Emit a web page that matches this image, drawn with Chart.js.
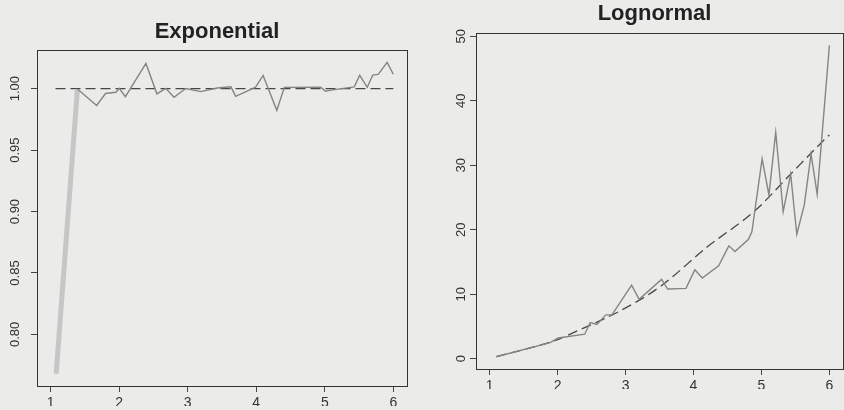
<!DOCTYPE html>
<html>
<head>
<meta charset="utf-8">
<script src="https://cdn.jsdelivr.net/npm/chart.js@4.4.1/dist/chart.umd.min.js"></script>
<style>
    html, body { margin: 0; padding: 0; background: #ebebe9; overflow: hidden; }
    #wrap { position: relative; width: 844px; height: 410px; }
    canvas { position: absolute; left: 0; top: 0; }
</style>
</head>
<body>
<div id="wrap">
    <canvas id="expChart" width="844" height="410"></canvas>
    <canvas id="lnChart" width="844" height="410"></canvas>
</div>
<script>
// Exponential panel: running estimate and true value (dashed)
const expX = [1.08, 1.39, 1.67, 1.80, 1.95, 2.00, 2.09, 2.39, 2.55, 2.68, 2.80, 2.97, 3.19, 3.43, 3.63, 3.70,
    3.99, 4.10, 4.30, 4.41, 4.94, 5.01, 5.09, 5.43, 5.51, 5.62, 5.70, 5.78, 5.91, 6.00];
const expY = [0.768, 0.9997, 0.9863, 0.9961, 0.9971, 1.0002, 0.9935, 1.0206, 0.9958, 1.0003, 0.993, 1.0002,
    0.9976, 1.0006, 1.0015, 0.9937, 1.0012, 1.0108, 0.9824, 1.0011, 1.0012, 0.9979, 0.9988, 1.0015, 1.0109,
    1.0011, 1.0111, 1.0117, 1.0214, 1.0118];
const expTrueX = [1.07, 6.00];
const expTrueY = [1.0, 1.0];
const expTicksY = [0.80, 0.85, 0.90, 0.95, 1.00];

// Lognormal panel
const lnX = [1.10, 1.89, 2.01, 2.40, 2.48, 2.58, 2.71, 2.80, 3.09, 3.20, 3.53, 3.62, 3.89, 4.02, 4.13, 4.37,
    4.52, 4.61, 4.81, 4.86, 5.01, 5.11, 5.21, 5.32, 5.43, 5.52, 5.63, 5.73, 5.82, 6.00];
const lnY = [0.3, 2.5, 3.2, 3.8, 5.6, 5.3, 6.8, 6.8, 11.4, 9.2, 12.3, 10.8, 10.9, 13.8, 12.5, 14.4,
    17.5, 16.6, 18.5, 19.7, 31.0, 25.4, 35.1, 22.8, 28.6, 19.3, 23.8, 31.7, 25.5, 48.6];
const lnTrueX = [1.10, 2.01, 2.31, 2.90, 3.50, 4.20, 4.90, 5.41, 5.92, 6.00];
const lnTrueY = [0.3, 3.0, 4.4, 7.3, 11.1, 17.3, 22.9, 28.4, 33.9, 34.7];
const lnTicksY = [0, 10, 20, 30, 40, 50];

const ticksX = [1, 2, 3, 4, 5, 6];

Chart.defaults.font.family = "'Liberation Sans', Arial, sans-serif";
Chart.defaults.color = '#333';

const toPoints = (xs, ys) => xs.map((x, i) => ({ x: x, y: ys[i] }));

// frame around the plot region, like R's box()
const boxPlugin = {
    id: 'box',
    afterDraw(chart) {
        const a = chart.chartArea;
        const ctx = chart.ctx;
        ctx.save();
        ctx.strokeStyle = '#333';
        ctx.lineWidth = 1;
        ctx.strokeRect(Math.round(a.left) + 0.5, Math.round(a.top) + 0.5,
            Math.round(a.right - a.left), Math.round(a.bottom - a.top));
        ctx.restore();
    }
};

// y tick labels written upright along the axis (R's las=0)
const yLabelPlugin = {
    id: 'yLabels',
    afterDraw(chart, args, opts) {
        const s = chart.scales.y;
        const ctx = chart.ctx;
        ctx.save();
        ctx.font = "13px 'Liberation Sans', Arial, sans-serif";
        ctx.fillStyle = '#333';
        ctx.textAlign = 'center';
        ctx.textBaseline = 'middle';
        s.ticks.forEach(t => {
            const y = s.getPixelForValue(t.value);
            ctx.save();
            ctx.translate(chart.chartArea.left - opts.offset, y);
            ctx.rotate(-Math.PI / 2);
            ctx.fillText(opts.fmt(t.value), 0, 0);
            ctx.restore();
        });
        ctx.restore();
    }
};

function makePanel(canvasId, cfg) {
    const ctx = document.getElementById(canvasId).getContext('2d');
    return new Chart(ctx, {
        type: 'line',
        data: {
            datasets: [{
                data: toPoints(cfg.x, cfg.y),
                borderColor: '#858585',
                borderWidth: 1.4,
                pointRadius: 0,
                tension: 0,
                segment: cfg.segment || {}
            }, {
                data: toPoints(cfg.trueX, cfg.trueY),
                borderColor: '#474747',
                borderWidth: 1.3,
                borderDash: [10, 5],
                pointRadius: 0,
                cubicInterpolationMode: 'monotone'
            }]
        },
        options: {
            responsive: false,
            animation: false,
            events: [],
            layout: { padding: cfg.padding },
            scales: {
                x: {
                    type: 'linear',
                    min: cfg.xMin,
                    max: cfg.xMax,
                    afterBuildTicks: s => { s.ticks = ticksX.map(v => ({ value: v })); },
                    afterFit: s => { s.height = 20; },
                    border: { display: false },
                    grid: { drawOnChartArea: false, tickLength: 6, color: '#444' },
                    ticks: { font: { size: 14 }, padding: 3, maxRotation: 0, autoSkip: false }
                },
                y: {
                    type: 'linear',
                    min: cfg.yMin,
                    max: cfg.yMax,
                    afterBuildTicks: s => { s.ticks = cfg.ticksY.map(v => ({ value: v })); },
                    afterFit: s => { s.width = 10; },
                    border: { display: false },
                    grid: { drawOnChartArea: false, tickLength: 6, color: '#444' },
                    ticks: { display: false }
                }
            },
            plugins: {
                legend: { display: false },
                tooltip: { enabled: false },
                yLabels: { offset: cfg.labelOffset, fmt: cfg.fmt },
                title: {
                    display: true,
                    text: cfg.title,
                    color: '#222',
                    font: { size: 22, weight: 'bold' },
                    padding: cfg.titlePad
                }
            }
        },
        plugins: [boxPlugin, yLabelPlugin]
    });
}

makePanel('expChart', {
    title: 'Exponential',
    x: expX, y: expY, trueX: expTrueX, trueY: expTrueY,
    ticksY: expTicksY,
    fmt: v => v.toFixed(2),
    labelOffset: 22,
    xMin: 0.8, xMax: 6.2, yMin: 0.758, yMax: 1.0315,
    padding: { left: 27, right: 437, top: 0, bottom: 4 },
    titlePad: { top: 18.8, bottom: 4.8 },
    // first jump drawn as a wide, pale stroke as in the print
    segment: {
        borderWidth: c => c.p0DataIndex === 0 ? 5 : undefined,
        borderColor: c => c.p0DataIndex === 0 ? '#c6c6c6' : undefined
    }
});

makePanel('lnChart', {
    title: 'Lognormal',
    x: lnX, y: lnY, trueX: lnTrueX, trueY: lnTrueY,
    ticksY: lnTicksY,
    fmt: v => String(v),
    labelOffset: 15,
    xMin: 0.8, xMax: 6.2, yMin: -1.6, yMax: 50.5,
    padding: { left: 466, right: 1, top: 0, bottom: 21 },
    titlePad: { top: 0.8, bottom: 5.8 }
});
</script>
</body>
</html>
